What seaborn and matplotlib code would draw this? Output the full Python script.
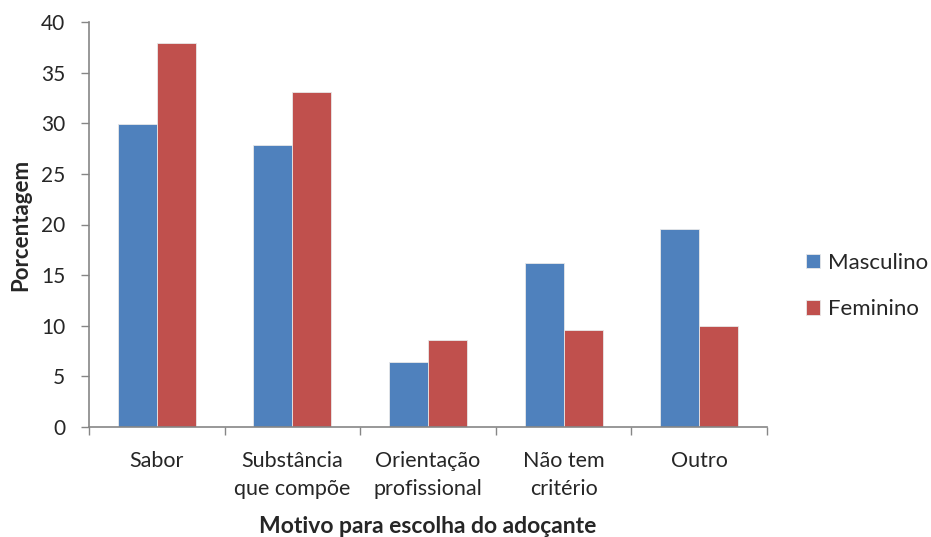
import matplotlib
matplotlib.use("Agg")
import matplotlib.pyplot as plt
import seaborn as sns
import pandas as pd
import numpy as np

categories = ["Sabor", "Substância\nque compõe", "Orientação\nprofissional", "Não tem\ncritério", "Outro"]
masculino = [29.9, 27.9, 6.4, 16.2, 19.6]
feminino = [37.9, 33.1, 8.6, 9.6, 10.0]
series = ["Masculino", "Feminino"]
colors = ["#4F81BD", "#C0504D"]

df = pd.DataFrame({
    "Motivo": categories * 2,
    "Grupo": [series[0]] * len(categories) + [series[1]] * len(categories),
    "Porcentagem": masculino + feminino,
})

sns.set_theme(style="white")
plt.rcParams["font.family"] = ["Lato", "DejaVu Sans"]

fig = plt.figure(figsize=(9.31, 5.37), dpi=100)
ax = fig.add_axes([89 / 931, 110 / 537, (767 - 89) / 931, (427 - 22) / 537])

sns.barplot(data=df, x="Motivo", y="Porcentagem", hue="Grupo", order=categories,
            hue_order=series, palette=colors, width=0.575, saturation=1,
            edgecolor="#e8e8e8", linewidth=0.6, ax=ax)

ax.set_xlim(-0.5, len(categories) - 0.5)
ax.set_ylim(0, 40)
ax.set_yticks(np.arange(0, 41, 5))
ax.tick_params(axis="y", labelsize=15, length=6, width=1, color="#868686",
               direction="out", left=True, pad=11)
ax.set_xticks(range(len(categories)))
ax.set_xticklabels(categories, fontsize=15.5, linespacing=1.55)
ax.set_xticks(np.arange(-0.5, len(categories)), minor=True)
ax.tick_params(axis="x", which="major", length=0, pad=17)
ax.tick_params(axis="x", which="minor", length=6, width=1, color="#868686",
               direction="out", bottom=True)

for s in ["top", "right"]:
    ax.spines[s].set_visible(False)
for s in ["left", "bottom"]:
    ax.spines[s].set_color("#868686")
    ax.spines[s].set_linewidth(1.2)

ax.set_xlabel("Motivo para escolha do adoçante", fontsize=16.5, fontweight="bold", labelpad=12)
ax.set_ylabel("Porcentagem", fontsize=16, fontweight="bold", labelpad=7)

leg = ax.legend(loc="center left", bbox_to_anchor=(1.0575, 0.348), frameon=False,
                fontsize=16, handlelength=0.65, handleheight=0.65, handletextpad=0.35,
                labelspacing=1.2, borderaxespad=0, borderpad=0)

fig.savefig("out.png", dpi=100)
